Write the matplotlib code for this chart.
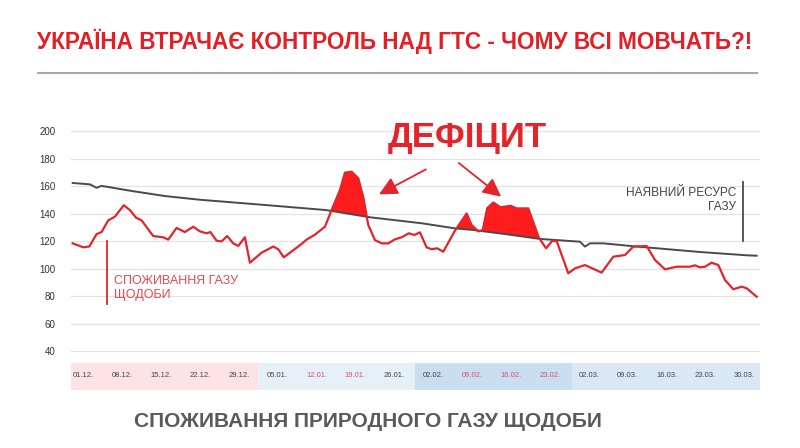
import matplotlib
matplotlib.use("Agg")
import matplotlib.pyplot as plt
import numpy as np

plt.rcParams['font.family'] = ['Liberation Sans', 'DejaVu Sans']

# day offsets from 01.12 and daily gas consumption (red line)
use_day = [0.3, 2.2, 3.3, 4.6, 5.5, 6.7, 7.9, 9.5, 10.6, 11.7, 12.7, 14.8, 16.6, 17.5,
           19.0, 20.5, 22.0, 23.2, 24.4, 25.1, 26.2, 27.1, 28.1, 29.2, 30.1, 31.3, 32.2,
           34.3, 36.4, 37.3, 38.3, 39.4, 41.2, 42.4, 43.9, 45.7, 46.9, 48.4, 49.3, 50.5,
           51.7, 52.6, 53.5, 54.7, 55.9, 57.1, 58.3, 59.5, 60.8, 61.8, 62.8, 64.0, 64.9,
           65.9, 67.0, 69.1, 71.2, 72.1, 73.3, 74.1, 74.9, 76.0, 77.3, 79.1, 80.2, 82.3,
           84.2, 85.5, 86.6, 87.4, 89.5, 90.7, 92.5, 95.5, 97.6, 99.7, 101.2, 103.6,
           105.1, 106.9, 109.0, 111.4, 112.3, 113.2, 114.1, 115.3, 116.5, 117.7, 119.2,
           120.7, 121.6, 123.4]
use_val = [118.3, 115.4, 116, 125, 126.5, 135, 137.7, 146, 142.5, 137, 135, 123.6, 122.7, 121,
           129.5, 126.5, 130.4, 127, 125.6, 126.5, 120.2, 119.7, 123.6, 118.3, 116.4, 122.7, 104.2,
           111.5, 116, 114, 108.1, 111.5, 116.9, 121, 124.6, 130.4, 142.5, 157, 169.7, 170.4,
           165.6, 152, 131.6, 120.7, 118.3, 118.3, 121.2, 122.7, 125.6, 124.4, 126.3, 115.4, 114,
           114.7, 112.2, 127.5, 140, 131.6, 127, 128, 143.8, 148, 144.5, 145.6, 143.7, 143.7,
           122.5, 114.7, 120, 120, 96.5, 100.1, 102.5, 97, 108.6, 109.8, 115.9, 116.4,
           106.2, 99.4, 101.3, 101.3, 102.3, 100.8, 101.3, 104.2, 102.5, 91.6, 84.9,
           86.8, 85.6, 79.5]

# available gas resource (dark line)
res_day = [0.3, 3.4, 4.6, 5.5, 10.9, 16.9, 23.2, 34.9, 45.9, 53.9, 63.1, 69.1, 72.4, 78.4,
           84.4, 91.6, 92.5, 93.4, 95.8, 101.2, 113.2, 121.6, 123.4]
res_val = [162.2, 161.2, 158.7, 160.1, 156.4, 152.7, 150.0, 146.2, 142.5, 137.2, 132.9, 129.2,
           128.0, 124.9, 121.5, 119.5, 115.9, 118.3, 118.3, 116.2, 112.0, 109.6, 109.3]

tick_days = [0, 7, 14, 21, 28, 35, 42, 49, 56, 63, 70, 77, 84, 91, 98, 105, 112, 119]
tick_labels = ['01.12.', '08.12.', '15.12.', '22.12.', '29.12.', '05.01.', '12.01.', '19.01.',
               '26.01.', '02.02.', '09.02.', '16.02.', '23.02.', '02.03.', '09.03.', '16.03.',
               '23.03.', '30.03.']
tick_red = [False, False, False, False, False, False, True, True, False, False, True, True,
            True, False, False, False, False, False]
band_edges = [0, 33.7, 61.9, 90.2, 124]
band_colors = ['#fde3e3', '#e6f0f9', '#c9def0', '#dae8f5']

RED = '#e4242b'
GREY = '#4a4a4a'

fig = plt.figure(figsize=(8, 4.48), dpi=100)
fig.patch.set_facecolor('white')

ax = fig.add_axes([71 / 800, 1 - 358 / 448, 689 / 800, 243 / 448])
ax.set_xlim(0, 124)
ax.set_ylim(200 - (358 - 131) / 1.375, 200 + (131 - 115) / 1.375)
ax.set_yticks(range(40, 201, 20))
ax.set_xticks([])
ax.grid(axis='y', color='#e3e3e3', lw=0.9)
ax.set_axisbelow(True)
for s in ax.spines.values():
    s.set_visible(False)
ax.tick_params(axis='y', length=0, pad=11, labelsize=7, labelcolor='#333333')

xx = np.linspace(use_day[0], use_day[-1], 2000)
u = np.interp(xx, use_day, use_val)
r = np.interp(xx, res_day, res_val)
ax.fill_between(xx, r, u, where=u > r, color='#ff1c1c', lw=0, interpolate=True)
ax.plot(res_day, res_val, color=GREY, lw=1.4)
ax.plot(use_day, use_val, color=RED, lw=1.6)

# labels inside the chart
ax.text(71.3, 195.5, 'ДЕФІЦИТ', color=RED, fontsize=25, fontweight='bold', ha='center', va='center')
ax.annotate('', xy=(55.0, 153), xytext=(64.3, 173),
            arrowprops=dict(arrowstyle='-|>,head_length=1.1,head_width=0.55', color=RED, lw=1.3))
ax.annotate('', xy=(77.8, 151), xytext=(69.4, 178),
            arrowprops=dict(arrowstyle='-|>,head_length=1.1,head_width=0.55', color=RED, lw=1.3))

ax.plot([6.5, 6.5], [120, 74], color=RED, lw=1.3)
ax.text(7.7, 86, 'СПОЖИВАННЯ ГАЗУ\nЩОДОБИ', color='#e5484d', fontsize=9, ha='left',
        va='center', linespacing=1.2)

ax.plot([121, 121], [163, 120], color=GREY, lw=1.3)
ax.text(119.7, 150, 'НАЯВНИЙ РЕСУРС\nГАЗУ', color='#444444', fontsize=8.6, ha='right',
        va='center', linespacing=1.25)

# date band under the chart
bx = fig.add_axes([71 / 800, 1 - 390 / 448, 689 / 800, 27 / 448])
bx.set_xlim(0, 124)
bx.set_ylim(0, 1)
bx.axis('off')
for i in range(len(band_colors)):
    bx.axvspan(band_edges[i], band_edges[i + 1], color=band_colors[i], lw=0)
for d, lab, hot in zip(tick_days, tick_labels, tick_red):
    bx.text(d + 0.3, 0.55, lab, fontsize=5.5, color='#e05068' if hot else '#444444',
            ha='left', va='center')

# header and footer
fig.text(395 / 800, 1 - 41 / 448, 'УКРАЇНА ВТРАЧАЄ КОНТРОЛЬ НАД ГТС - ЧОМУ ВСІ МОВЧАТЬ?!',
         color='#e31e24', fontsize=16.3, fontweight='bold', ha='center', va='center')
fig.add_artist(plt.Line2D([38 / 800, 757 / 800], [1 - 73 / 448, 1 - 73 / 448],
                          color='#a8a8a8', lw=1.5))
fig.text(368 / 800, 1 - 421 / 448, 'СПОЖИВАННЯ ПРИРОДНОГО ГАЗУ ЩОДОБИ',
         color='#5a5a5a', fontsize=15, fontweight='bold', ha='center', va='center')

fig.savefig('out.png', dpi=100)
